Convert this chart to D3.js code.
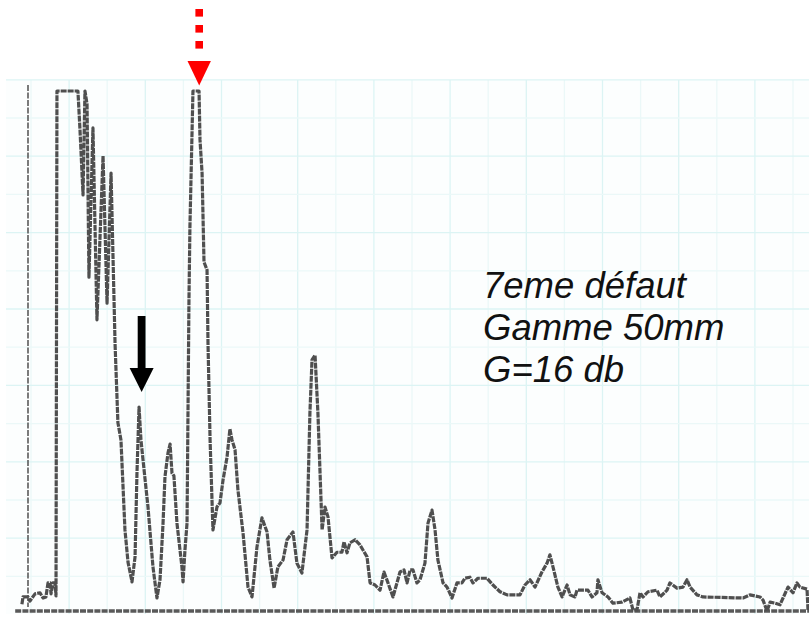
<!DOCTYPE html>
<html>
<head>
<meta charset="utf-8">
<script src="https://cdn.jsdelivr.net/npm/d3@7/dist/d3.min.js"></script>
<style>
  html, body { margin: 0; padding: 0; background: #ffffff; }
  svg { display: block; }
</style>
</head>
<body>
<svg id="chart" width="809" height="619"></svg>
<script>
// A-scan echo trace: depth along the sweep (mm) and echo amplitude (% of screen height)
const depthMm = [
  0.12, 0.19, 0.5, 0.62, 0.75, 0.94, 1.25, 1.44, 1.62, 1.75, 1.88, 1.94, 2.06, 2.19, 2.25,
  2.31, 3.62, 3.75, 3.94, 4.06, 4.19, 4.31, 4.56, 4.81, 5.19, 5.44, 5.69, 5.94, 6.12, 6.31,
  6.56, 6.75, 7.0, 7.19, 7.31, 7.44, 7.56, 7.69, 8.0, 8.31, 8.56, 8.75, 8.94, 9.06, 9.25,
  9.38, 9.5, 9.62, 9.81, 10.12, 10.19, 10.31, 10.44, 10.56, 10.62, 10.81, 11.19, 11.25, 11.38, 11.5,
  11.69, 11.75, 11.88, 12.06, 12.31, 12.5, 12.69, 12.94, 13.12, 13.25, 13.44, 13.62, 13.94, 14.25, 14.5,
  14.81, 15.12, 15.44, 15.62, 15.88, 16.12, 16.44, 16.69, 17.06, 17.31, 17.62, 17.94, 18.12, 18.25, 18.44,
  18.62, 18.88, 19.06, 19.25, 19.5, 19.81, 20.12, 20.25, 20.44, 20.62, 20.94, 21.25, 21.69, 21.88, 22.19,
  22.5, 22.75, 23.0, 23.31, 23.56, 23.75, 24.0, 24.19, 24.38, 24.56, 24.81, 25.0, 25.31, 25.5, 25.75,
  25.94, 26.12, 26.44, 26.69, 27.0, 27.31, 27.62, 27.81, 28.12, 28.31, 28.62, 29.19, 29.56, 30.0, 30.44,
  31.25, 31.56, 31.88, 32.19, 32.62, 32.94, 33.12, 33.31, 33.62, 33.88, 34.19, 34.38, 34.69, 34.81, 35.5,
  35.75, 36.06, 36.12, 36.38, 36.75, 37.06, 37.62, 38.12, 38.31, 38.56, 38.75, 38.94, 39.25, 39.81, 40.0,
  40.44, 40.62, 41.06, 41.44, 41.69, 41.88, 42.31, 42.69, 45.19, 45.62, 46.25, 46.44, 46.69, 46.88, 47.19,
  47.5, 47.69, 48.0, 48.31, 48.56, 48.75, 49.19, 49.25
];
const amplitudePct = [
  1.3, 2.7, 2.7, 1.9, 2.5, 3.3, 3.5, 2.5, 2.7, 5.4, 5.4, 3.3, 5.4, 5.4, 2.9,
  100, 100, 92.5, 80, 100, 97.5, 64.2, 92.9, 56, 87.5, 59.2, 84.2, 51.5, 36.2, 32.9,
  15.6, 9.4, 5.6, 10.4, 26.5, 39.2, 32.9, 29, 20, 8.5, 2.5, 6, 16.9, 25.8, 30.4,
  32.1, 26.5, 26, 16.9, 8.5, 5.6, 11.7, 16.9, 59.8, 73.8, 100, 100, 90.6, 84.2, 67.1,
  65.6, 51.5, 32.9, 15.6, 20, 20.8, 25.2, 29.6, 35, 32.9, 31, 23.3, 15, 4.6, 2.7,
  12.3, 17.9, 15.2, 9.8, 4.4, 8.5, 9.8, 13.7, 15.2, 9.2, 7.3, 15.6, 38.1, 48.3, 49.2,
  38.1, 15.6, 20, 18.1, 10.2, 11.3, 11.3, 13.3, 11.2, 13.1, 13.7, 12.7, 10.4, 5.4, 5,
  4, 7.5, 5.4, 2.7, 5.4, 7.5, 7.9, 5.4, 7.9, 7.9, 5.4, 6, 9.2, 16.9, 19.4,
  15.6, 9.8, 5.4, 4.6, 2.5, 5.4, 5.4, 6.3, 6.5, 5.4, 6.3, 6.3, 5, 3.7, 3.1,
  3.1, 5, 6, 4.6, 7.5, 9.2, 10.8, 8.5, 4.6, 2.7, 5, 3.1, 2.7, 4, 4,
  2.7, 3.5, 6, 3.5, 2.7, 1.5, 1.7, 2.5, 0.2, 0.2, 3.5, 2.7, 3.7, 4, 2.7,
  4, 5.4, 4.4, 4.6, 6, 4.6, 3.1, 2.7, 2.5, 3.1, 2.7, 2.1, 0, 1.7, 1.5,
  1.2, 2.5, 4.6, 3.5, 5.4, 4.6, 4.2, 0.2
];

// Annotation text and the two marked echoes
const noteLines = ["7eme défaut", "Gamme 50mm", "G=16 db"];
const sweepStartMm = 0.5;        // thin start marker of the sweep
const defectEchoMm = 11.2;       // red dotted arrow
const smallEchoMm = 7.6;         // black arrow
const gridCols = d3.range(0, 21); // paper grid divisions
const gridRows = d3.range(-1, 13);

const svg = d3.select("#chart");
const W = 809, H = 619;

const x = d3.scaleLinear().domain([0, 50]).range([20, 820]);
const y = d3.scaleLinear().domain([0, 100]).range([611, 91]);

// Recorder paper grid
const gx = d3.scaleLinear().domain([0, 20]).range([31, 793]);
const gy = d3.scaleLinear().domain([0, 12]).range([118, 576.4]);
const paper = svg.append("g");
paper.append("rect").attr("x", 6).attr("y", 80).attr("width", W - 6).attr("height", 534)
  .attr("fill", "#fcfefe");
paper.selectAll("line.v").data(gridCols).join("line")
  .attr("x1", d => gx(d)).attr("x2", d => gx(d)).attr("y1", 80).attr("y2", 614)
  .attr("stroke", d => d % 2 === 1 ? "#dcf4f4" : "#ebf8f8").attr("stroke-width", 1.3);
paper.selectAll("line.h").data(gridRows).join("line")
  .attr("x1", 6).attr("x2", W).attr("y1", d => gy(d)).attr("y2", d => gy(d))
  .attr("stroke", d => Math.abs(d % 2) === 1 ? "#dcf4f4" : "#ebf8f8").attr("stroke-width", 1.3);

// Sweep start marker
svg.append("line")
  .attr("x1", x(sweepStartMm)).attr("x2", x(sweepStartMm))
  .attr("y1", y(100) - 6).attr("y2", y(0) - 4)
  .attr("stroke", "#5a5a5a").attr("stroke-width", 1.6).attr("stroke-dasharray", "6,1.5");

// Baseline
svg.append("line")
  .attr("x1", x(-0.3)).attr("x2", W).attr("y1", y(0)).attr("y2", y(0))
  .attr("stroke", "#595959").attr("stroke-width", 3.5).attr("stroke-dasharray", "6,1.2");

// Echo trace
const pts = depthMm.map((d, i) => [d, amplitudePct[i]]);
const line = d3.line().x(d => x(d[0])).y(d => y(d[1]));
svg.append("path").datum(pts)
  .attr("d", line)
  .attr("fill", "none")
  .attr("stroke", "#4f4f4f")
  .attr("stroke-width", 3.2)
  .attr("stroke-linejoin", "round")
  .attr("stroke-dasharray", "6,1");

// Red dotted arrow over the main defect echo
const rx = x(defectEchoMm);
const red = svg.append("g").attr("fill", "#ff0000");
red.selectAll("rect").data([0, 1, 2]).join("rect")
  .attr("x", rx - 3.8).attr("y", d => 9 + d * 16).attr("width", 7.6).attr("height", 7.6);
red.append("path")
  .attr("d", `M${rx - 11.7},61 L${rx + 11.7},61 L${rx},85.5 Z`);

// Black arrow over the smaller echo
const bx = x(smallEchoMm);
const blk = svg.append("g").attr("fill", "#000000");
blk.append("rect").attr("x", bx - 3.9).attr("y", 316).attr("width", 7.8).attr("height", 54);
blk.append("path")
  .attr("d", `M${bx - 12},368 L${bx + 12},368 L${bx},392 Z`);

// Annotation
svg.append("g").selectAll("text").data(noteLines).join("text")
  .attr("x", 483).attr("y", (d, i) => 298 + i * 42)
  .attr("font-family", "Liberation Sans, Arial, sans-serif")
  .attr("font-style", "italic")
  .attr("font-size", 36.5)
  .attr("fill", "#111111")
  .text(d => d);
</script>
</body>
</html>
